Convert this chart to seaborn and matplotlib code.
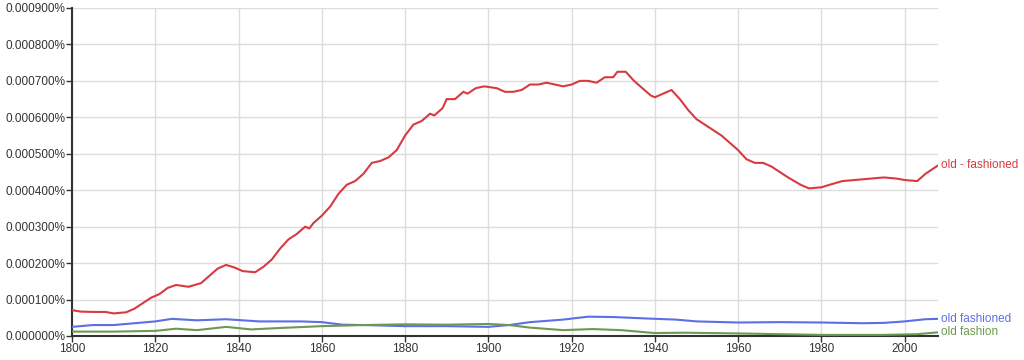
import numpy as np
import pandas as pd
import matplotlib
matplotlib.use("Agg")
import matplotlib.pyplot as plt
import seaborn as sns
from matplotlib.ticker import FuncFormatter, MultipleLocator

# values are in percent units
red_years = [1800, 1802, 1805, 1808, 1810, 1813, 1815, 1817, 1819, 1821, 1823, 1825, 1828, 1831, 1833,
             1835, 1837, 1839, 1841, 1844, 1846, 1848, 1850, 1852, 1854, 1856, 1857, 1858, 1860, 1862,
             1864, 1866, 1868, 1870, 1872, 1874, 1876, 1878, 1880, 1882, 1884, 1886, 1887, 1889, 1890,
             1892, 1894, 1895, 1897, 1899, 1902, 1904, 1906, 1908, 1910, 1912, 1914, 1916, 1918, 1920,
             1922, 1924, 1926, 1928, 1930, 1931, 1933, 1935, 1937, 1939, 1940, 1942, 1944, 1946, 1948,
             1950, 1952, 1954, 1956, 1958, 1960, 1962, 1964, 1966, 1968, 1970, 1972, 1975, 1977, 1980,
             1982, 1985, 1990, 1995, 1998, 2000, 2003, 2005, 2008]
red_vals = [0.000071, 0.000067, 0.000066, 0.000066, 0.000062, 0.000065, 0.000075, 0.000090, 0.000105,
            0.000115, 0.000132, 0.000140, 0.000135, 0.000145, 0.000165, 0.000185, 0.000195, 0.000188,
            0.000178, 0.000175, 0.000190, 0.000210, 0.000240, 0.000265, 0.000280, 0.000300, 0.000295,
            0.000310, 0.000330, 0.000355, 0.000390, 0.000415, 0.000425, 0.000445, 0.000475, 0.000480,
            0.000490, 0.000510, 0.000550, 0.000580, 0.000590, 0.000610, 0.000605, 0.000625, 0.000650,
            0.000650, 0.000670, 0.000665, 0.000680, 0.000685, 0.000680, 0.000670, 0.000670, 0.000675,
            0.000690, 0.000690, 0.000695, 0.000690, 0.000685, 0.000690, 0.000700, 0.000700, 0.000695,
            0.000710, 0.000710, 0.000725, 0.000725, 0.000700, 0.000680, 0.000660, 0.000655, 0.000665,
            0.000675, 0.000650, 0.000620, 0.000595, 0.000580, 0.000565, 0.000550, 0.000530, 0.000510,
            0.000485, 0.000475, 0.000475, 0.000465, 0.000450, 0.000435, 0.000415, 0.000405, 0.000408,
            0.000415, 0.000425, 0.000430, 0.000435, 0.000432, 0.000428, 0.000425, 0.000445, 0.000468]

blue_years = [1800, 1805, 1810, 1815, 1820, 1824, 1830, 1837, 1845, 1855, 1860, 1865, 1870, 1880, 1890,
              1900, 1905, 1910, 1918, 1924, 1930, 1938, 1945, 1950, 1960, 1970, 1980, 1990, 1995, 2000,
              2005, 2008]
blue_vals = [0.000025, 0.000030, 0.000030, 0.000035, 0.000040, 0.000047, 0.000043, 0.000046, 0.000040,
             0.000040, 0.000038, 0.000031, 0.000030, 0.000027, 0.000027, 0.000025, 0.000030, 0.000038,
             0.000045, 0.000053, 0.000052, 0.000048, 0.000045, 0.000040, 0.000037, 0.000038, 0.000037,
             0.000035, 0.000036, 0.000040, 0.000046, 0.000047]

green_years = [1800, 1810, 1820, 1825, 1830, 1837, 1843, 1850, 1860, 1870, 1880, 1890, 1900, 1905, 1910,
               1918, 1925, 1932, 1940, 1947, 1960, 1980, 1995, 2003, 2008]
green_vals = [0.000012, 0.000012, 0.000014, 0.000020, 0.000016, 0.000025, 0.000018, 0.000022, 0.000027,
              0.000030, 0.000032, 0.000031, 0.000033, 0.000030, 0.000023, 0.000016, 0.000019, 0.000016,
              0.000008, 0.000009, 0.000007, 0.000003, 0.000003, 0.000005, 0.000010]

series_names = ["old - fashioned", "old fashioned", "old fashion"]
series_colors = ["#d93a40", "#5c6fe6", "#6b9a52"]

df = pd.concat([
    pd.DataFrame({"year": red_years, "value": red_vals, "ngram": series_names[0]}),
    pd.DataFrame({"year": blue_years, "value": blue_vals, "ngram": series_names[1]}),
    pd.DataFrame({"year": green_years, "value": green_vals, "ngram": series_names[2]}),
])

sns.set_theme(style="white")
plt.rcParams["font.family"] = ["Liberation Sans", "DejaVu Sans"]

fig = plt.figure(figsize=(10.24, 3.6), dpi=100)
ax = fig.add_axes([0.0703, 0.0667, 0.8457, 0.9111])

palette = dict(zip(series_names, series_colors))
sns.lineplot(data=df, x="year", y="value", hue="ngram", palette=palette, ax=ax,
             linewidth=1.5, legend=False, zorder=3)

ax.set_xlim(1800, 2008)
ax.set_ylim(0, 0.0009)
ax.xaxis.set_major_locator(MultipleLocator(20))
ax.yaxis.set_major_locator(MultipleLocator(0.0001))
ax.yaxis.set_major_formatter(FuncFormatter(lambda v, p: f"{v:.6f}%"))
ax.grid(True, color="#dddddd", linewidth=1, zorder=0)
ax.set_axisbelow(True)
for s in ["top", "right"]:
    ax.spines[s].set_visible(False)
ax.spines["left"].set_color("#333333")
ax.spines["bottom"].set_color("#333333")
ax.spines["left"].set_linewidth(1.5)
ax.spines["bottom"].set_linewidth(1.5)
ax.tick_params(axis="both", labelsize=8.5, labelcolor="#333333", length=4, width=1, color="#333333",
               left=True, bottom=True, direction="out", pad=1)
ax.set_xlabel("")
ax.set_ylabel("")

ends = [red_vals[-1], blue_vals[-1], green_vals[-1]]
for name, col, val in zip(series_names, series_colors, ends):
    ax.annotate(name, xy=(2008, val), xytext=(2, 0), textcoords="offset points",
                color=col, fontsize=8.5, va="center", ha="left", annotation_clip=False)

fig.savefig("out.png", dpi=100)
